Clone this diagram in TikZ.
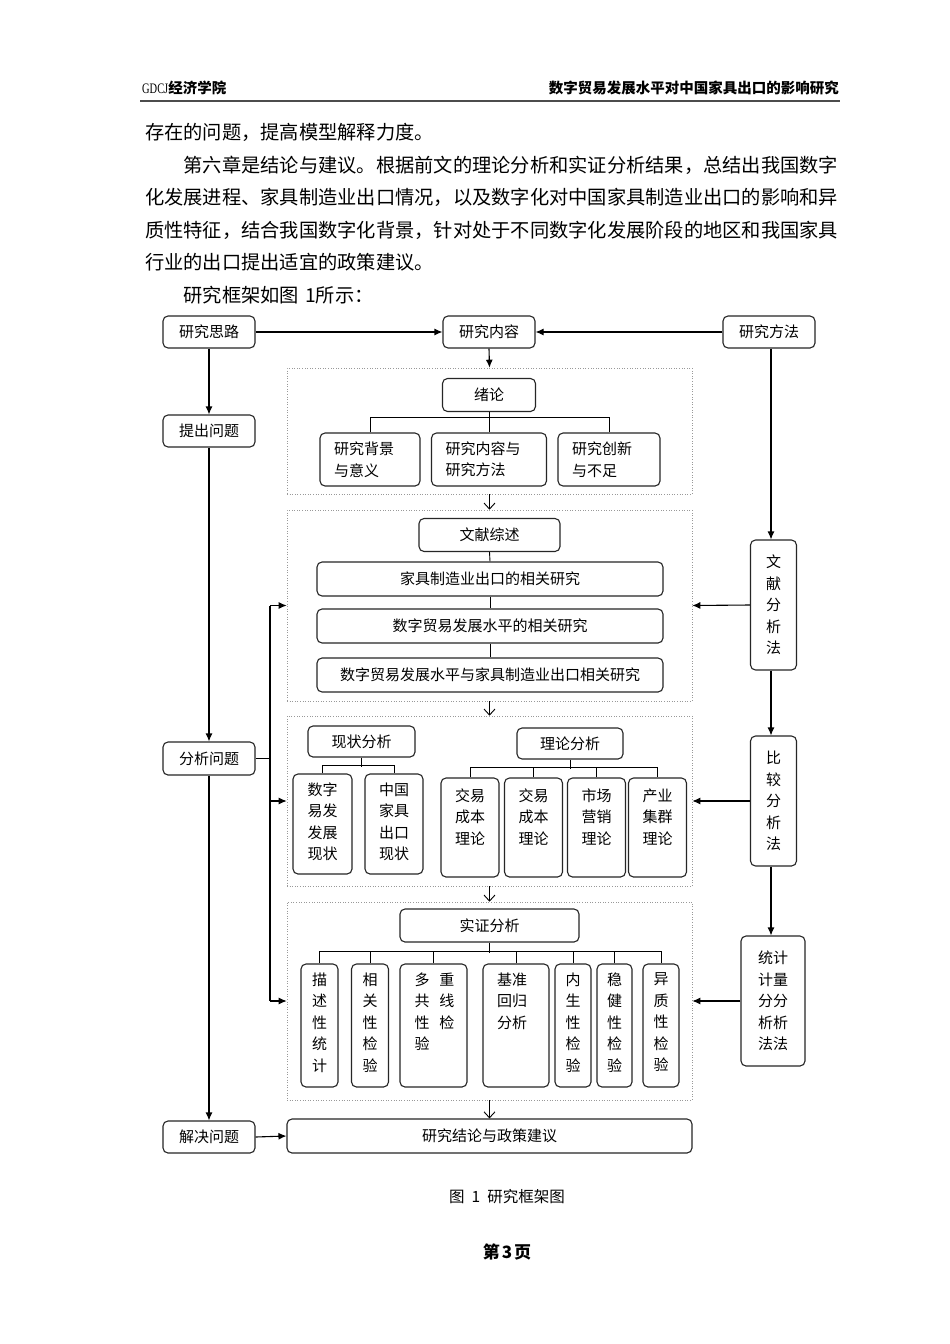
\documentclass[tikz,border=0pt]{standalone}
\usepackage{fontspec}
\setmainfont{Noto Sans CJK SC}
\newfontfamily\latinserif{Liberation Serif}
\usetikzlibrary{arrows.meta,calc}
\newcommand{\dgfont}{\fontsize{15}{21.5}\selectfont}
\newcommand{\bodyfont}{\fontsize{19.25}{23}\selectfont}
\begin{document}
\begin{tikzpicture}[x=1pt,y=-1pt,
  box/.style={draw=black!85, line width=1.1pt, rounded corners=5pt, inner sep=0pt, font=\dgfont, align=center},
  dotbox/.style={draw=black!40, line width=0.6pt, dotted, inner sep=0pt},
  vt/.style={inner sep=0pt, font=\dgfont, align=center, anchor=north},
  arr/.style={-{Latex[length=8pt,width=7pt]}, line width=1.1pt},
  oarr/.style={-{Straight Barb[length=6pt,width=11pt]}, line width=0.9pt},
  ln/.style={line width=0.9pt},
  mln/.style={line width=1.1pt},
  body/.style={anchor=west, inner sep=0pt, font=\bodyfont},
]
\fill[white] (0,0) rectangle (950,1344);
\useasboundingbox (0,0) rectangle (950,1344);

% header
\node[anchor=west, inner sep=0pt] (hl) at (142,88) {\fontsize{14.5}{17}\selectfont\scalebox{0.72}[1]{\latinserif GDCJ}\bfseries 经济学院};
\node[anchor=east, inner sep=0pt] (hr) at (839,88) {\fontsize{14.5}{17}\selectfont\bfseries 数字贸易发展水平对中国家具出口的影响研究};
\draw[line width=2pt, black!70] (140,101) -- (840,101);

% body text
\node[body] (t1) at (145,132.5) {存在的问题，提高模型解释力度。};
\node[body] (t2) at (183.5,165) {第六章是结论与建议。根据前文的理论分析和实证分析结果，总结出我国数字};
\node[body] (t3) at (145,197.5) {化发展进程、家具制造业出口情况，以及数字化对中国家具制造业出口的影响和异};
\node[body] (t4) at (145,230) {质性特征，结合我国数字化背景，针对处于不同数字化发展阶段的地区和我国家具};
\node[body] (t5) at (145,262.5) {行业的出口提出适宜的政策建议。};
\node[body] (t6) at (183.5,295) {研究框架如图\hspace{6pt}1所示：};

% top row
\node[box, minimum width=92pt, minimum height=32pt] (sl) at (209,332) {研究思路};
\node[box, minimum width=92pt, minimum height=32pt] (nr) at (489,332) {研究内容};
\node[box, minimum width=92pt, minimum height=32pt] (ff) at (769,332) {研究方法};

% left column
\node[box, minimum width=92pt, minimum height=32pt] (tc) at (209,431) {提出问题};
\node[box, minimum width=92pt, minimum height=33pt] (fx) at (209,758.5) {分析问题};
\node[box, minimum width=92pt, minimum height=32pt] (jj) at (209,1137) {解决问题};

% dotted groups
\node[dotbox, minimum width=405pt, minimum height=126pt] (dot1) at (489.5,431) {};
\node[dotbox, minimum width=405pt, minimum height=191pt] (dot2) at (489.5,605.5) {};
\node[dotbox, minimum width=405pt, minimum height=170pt] (dot3) at (489.5,801) {};
\node[dotbox, minimum width=405pt, minimum height=198pt] (dot4) at (489.5,1001) {};

% group 1
\node[box, minimum width=93pt, minimum height=33pt] (xl) at (489,395) {绪论};
\node[box, minimum width=100pt, minimum height=53pt, text width=72pt, align=left] (s1) at (370,459.5) {研究背景\\与意义};
\node[box, minimum width=115pt, minimum height=53pt, text width=87pt, align=left] (s2) at (489,459.5) {研究内容与\\研究方法};
\node[box, minimum width=102pt, minimum height=53pt, text width=74pt, align=left] (s3) at (609,459.5) {研究创新\\与不足};
\draw[ln] (xl.south) -- (s2.north);
\draw[ln] (s1.north) -- ++(0,-15) -| (s3.north);

% group 2
\node[box, minimum width=141pt, minimum height=33pt] (ws) at (489.5,535) {文献综述};
\node[box, minimum width=346pt, minimum height=34pt] (w1) at (490,579) {家具制造业出口的相关研究};
\node[box, minimum width=346pt, minimum height=34pt] (w2) at (490,626) {数字贸易发展水平的相关研究};
\node[box, minimum width=346pt, minimum height=34pt] (w3) at (490,675) {数字贸易发展水平与家具制造业出口相关研究};
\draw[ln] (ws.south) -- (w1.north);
\draw[ln] (w1.south) -- (w2.north);
\draw[ln] (w2.south) -- (w3.north);

% group 3
\node[box, minimum width=107pt, minimum height=31pt] (xz) at (361.5,741.5) {现状分析};
\node[box, minimum width=59pt, minimum height=100pt] (xz1) at (322.5,824) {};
\node[box, minimum width=58pt, minimum height=100pt] (xz2) at (394,824) {};
\node[vt] at ($(xz1.north)+(0,9)$) {数字\\易发\\发展\\现状};
\node[vt] at ($(xz2.north)+(0,9)$) {中国\\家具\\出口\\现状};
\draw[ln] (xz.south) -- ++(0,9);
\draw[ln] (xz1.north) -- ++(0,-8) -| (xz2.north);

\node[box, minimum width=106pt, minimum height=31pt] (ll) at (570,743.5) {理论分析};
\node[box, minimum width=58pt, minimum height=99pt] (l1) at (470,827.5) {};
\node[box, minimum width=58pt, minimum height=99pt] (l2) at (533.5,827.5) {};
\node[box, minimum width=58pt, minimum height=99pt] (l3) at (596.5,827.5) {};
\node[box, minimum width=58pt, minimum height=99pt] (l4) at (657.5,827.5) {};
\node[vt] at ($(l1.north)+(0,11)$) {交易\\成本\\理论};
\node[vt] at ($(l2.north)+(0,11)$) {交易\\成本\\理论};
\node[vt] at ($(l3.north)+(0,11)$) {市场\\营销\\理论};
\node[vt] at ($(l4.north)+(0,11)$) {产业\\集群\\理论};
\draw[ln] (ll.south) -- ++(0,9);
\draw[ln] (l1.north) -- ++(0,-10) -| (l4.north);
\draw[ln] (l2.north) -- ++(0,-10);
\draw[ln] (l3.north) -- ++(0,-10);

% group 4
\node[box, minimum width=179pt, minimum height=33pt] (sz) at (489.5,925.5) {实证分析};
\node[box, minimum width=37pt, minimum height=123pt] (e1) at (319.5,1025.5) {};
\node[box, minimum width=37pt, minimum height=123pt] (e2) at (370,1025.5) {};
\node[box, minimum width=67pt, minimum height=123pt] (e3) at (433.5,1025.5) {};
\node[box, minimum width=66pt, minimum height=123pt] (e4) at (516,1025.5) {};
\node[box, minimum width=36pt, minimum height=123pt] (e5) at (573,1025.5) {};
\node[box, minimum width=35pt, minimum height=123pt] (e6) at (614.5,1025.5) {};
\node[box, minimum width=36pt, minimum height=123pt] (e7) at (661,1025.5) {};
\node[vt] at ($(e1.north)+(0,9)$) {描\\述\\性\\统\\计};
\node[vt] at ($(e2.north)+(0,9)$) {相\\关\\性\\检\\验};
\node[vt, align=left] at ($(e3.north)+(1,9)$) {多\hspace{10pt}重\\共\hspace{10pt}线\\性\hspace{10pt}检\\验};
\node[vt] at ($(e4.north)+(-4,9)$) {基准\\回归\\分析};
\node[vt] at ($(e5.north)+(0,9)$) {内\\生\\性\\检\\验};
\node[vt] at ($(e6.north)+(0,9)$) {稳\\健\\性\\检\\验};
\node[vt] at ($(e7.north)+(0,9)$) {异\\质\\性\\检\\验};
\draw[ln] (sz.south) -- ++(0,10);
\draw[ln] (e1.north) -- ++(0,-12) -| (e7.north);
\foreach \e in {e2,e3,e4,e5,e6} \draw[ln] (\e.north) -- ++(0,-12);

% final box
\node[box, minimum width=405pt, minimum height=34pt] (jl) at (489.5,1136) {研究结论与政策建议};

% right column
\node[box, minimum width=46pt, minimum height=130pt] (wf) at (773.5,605) {文\\献\\分\\析\\法};
\node[box, minimum width=46pt, minimum height=130pt] (bj) at (773.5,801) {比\\较\\分\\析\\法};
\node[box, minimum width=64pt, minimum height=130pt] (tj) at (773,1001) {统计\\计量\\分分\\析析\\法法};

% main connectors
\draw[arr] (sl.east) -- (nr.west);
\draw[arr] (ff.west) -- (nr.east);
\draw[arr] (nr.south) -- (dot1.north);
\draw[arr] (sl.south) -- (tc.north);
\draw[arr] (tc.south) -- (fx.north);
\draw[arr] (fx.south) -- (jj.north);
\draw[arr] (jj.east) -- (jl.west);

\coordinate (rx) at (771,0);
\draw[arr] (ff.south -| rx) -- (wf.north -| rx);
\draw[arr] (wf.south -| rx) -- (bj.north -| rx);
\draw[arr] (bj.south -| rx) -- (tj.north -| rx);
\draw[arr] (wf.west) -- (dot2.east);
\draw[arr] (bj.west) -- (dot3.east);
\draw[arr] (tj.west) -- (dot4.east);

\coordinate (bus) at (270,0);
\draw[mln] (fx.east) -- (fx.east -| bus);
\draw[mln] (bus |- dot2.west) -- (bus |- dot4.west);
\draw[arr] (bus |- dot2.west) -- (dot2.west);
\draw[arr] (bus |- dot3.west) -- (dot3.west);
\draw[arr] (bus |- dot4.west) -- (dot4.west);

% open arrows between groups
\draw[oarr] (dot1.south) -- (dot2.north);
\draw[oarr] (dot2.south) -- (dot3.north);
\draw[oarr] (dot3.south) -- (dot4.north);
\draw[oarr] (dot4.south) -- (jl.north);

% caption and page number
\node[inner sep=0pt] (cap) at (507,1197) {\fontsize{15.5}{18}\selectfont 图\hspace{7pt}1\hspace{7pt}研究框架图};
\node[inner sep=0pt] (pg) at (507,1252) {\fontsize{17}{20}\selectfont\bfseries 第\hspace{2pt}3\hspace{2pt}页};
\end{tikzpicture}
\end{document}
